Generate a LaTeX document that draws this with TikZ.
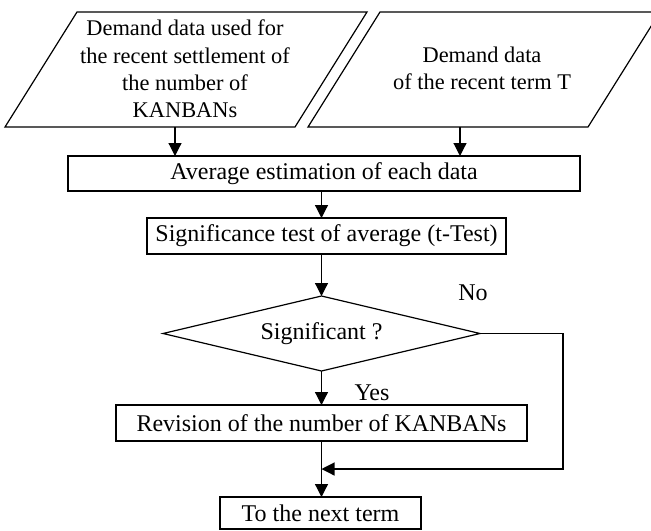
\documentclass[tikz,border=0pt]{standalone}
\usepackage{fontspec}
\setmainfont{Liberation Serif}
\usetikzlibrary{shapes.geometric, arrows.meta}

\begin{document}
\begin{tikzpicture}[x=0.5pt, y=-0.5pt, line width=0.6pt,
    >={Triangle[length=6.5pt, width=6.5pt]}]
  \useasboundingbox (0,0) rectangle (651,530);

  \draw (77,12) -- (367,12) -- (295,127) -- (5,127) -- cycle;
  \draw (380,12) -- (660,12) -- (588,127) -- (308,127) -- cycle;

  {\tikzstyle{every node}=[draw, line width=0.6pt, inner sep=0pt, outer sep=0pt,
      align=center, font=\fontsize{12}{13.3}\selectfont]
    \tikzstyle{datanode}=[draw=none, font=\fontsize{11.2}{13.6}\selectfont]
    \tikzstyle{stepbox}=[rectangle, minimum height=18pt]
    \tikzstyle{label}=[draw=none]

    \node[datanode] (d0) at (185, 69)
      {Demand data used for\\the recent settlement of\\the number of\\KANBANs};
    \node[datanode] (d1) at (482, 68.5)
      {Demand data\\of the recent term T};

    \node[stepbox, minimum width=256pt, minimum height=17.5pt] (avg) at (324, 173.5)
      {Average estimation of each data};
    \node[stepbox, minimum width=179.5pt] (sig) at (326.5, 236)
      {Significance test of average (t-Test)};
    \node[diamond, aspect=4, minimum width=158.5pt, minimum height=37.5pt] (dec)
      at (321.5, 333.5) {Significant ?};
    \node[stepbox, minimum width=205.5pt] (rev) at (321.5, 423)
      {Revision of the number of KANBANs};
    \node[stepbox, minimum width=100.5pt, minimum height=16pt] (next) at (320.5, 513)
      {To the next term};

    \node[label] (no) at (473, 293) {No};
    \node[label] (yes) at (372, 393) {Yes};
  }

  \coordinate (a0) at (175, 127);
  \coordinate (a1) at (460, 127);
  \coordinate (join) at (321.5, 469);

  \draw[->] (a0) -- (avg.north -| a0);
  \draw[->] (a1) -- (avg.north -| a1);
  \draw[->] (avg.south -| dec) -- (sig.north -| dec);
  \draw[->] (sig.south -| dec) -- (dec.north);
  \draw[->] (dec.south) -- (rev.north -| dec);
  \draw[->] (rev.south -| dec) -- (next.north -| dec);
  \draw[->] (dec.east) -- ++(83, 0) |- (join);
\end{tikzpicture}
\end{document}
